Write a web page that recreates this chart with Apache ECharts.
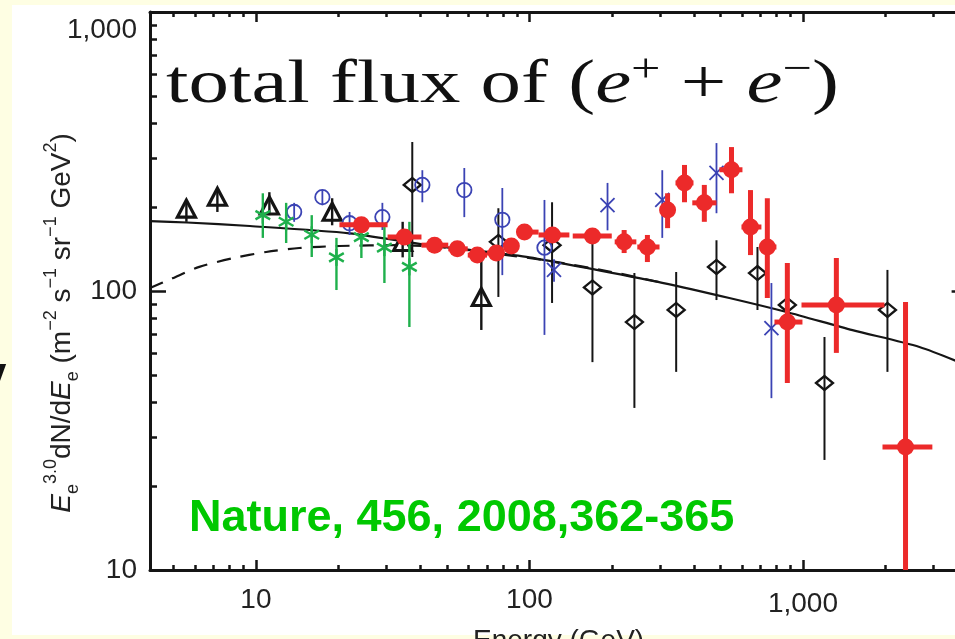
<!DOCTYPE html>
<html><head><meta charset="utf-8">
<script src="https://cdn.jsdelivr.net/npm/echarts@6/dist/echarts.min.js"></script>
<style>
html,body{margin:0;padding:0;width:955px;height:639px;overflow:hidden;background:#fefee3;}
#paper{position:absolute;left:12px;top:5px;width:943px;height:630px;background:#fff;}
#chart{position:absolute;left:0;top:0;width:955px;height:639px;}
</style></head><body>
<div id="paper"></div><div id="chart"></div>
<script>
// ---------------- data ----------------
const xMajorTicks = [10, 100, 1000];
const xTickLabels = ['10', '100', '1,000'];
const xMinorTicks = [5,6,7,8,9,20,30,40,50,60,70,80,90,200,300,400,500,600,700,800,900,2000,3000];
const yMajorTicks = [10, 100, 1000];
const yTickLabels = ['10', '100', '1,000'];
const yMinorTicks = [20,30,40,50,60,70,80,90,200,300,400,500,600,700,800,900];

// ATIC (red): [E, flux, Elow, Ehigh, fluxLow, fluxHigh]
const aticPoints = [
  [24.3,172.6,20.2,30.3,167,178],
  [34.9,156,30.3,40.3,151,161],
  [45.0,146,40.3,50.5,142,150],
  [54.5,141.6,50.5,59.5,138,146],
  [64.5,134.5,59.5,70,131,138],
  [75.7,136.8,70,81,133,141],
  [85.9,145,81,91,141,149],
  [95.9,162.6,91,108,158,167],
  [121.4,158.8,108,140,154,164],
  [170,157.4,144,200,152,163],
  [222,150,205,246,136.8,165.4],
  [270,143.8,248,299,127,158.8],
  [320,195,304,337,168,224],
  [369,244,342,398,208,283],
  [436,207,394,483,177,240],
  [548,272,495,601,224,328],
  [643,169.6,596,705,134.5,230],
  [741,143.8,705,800,94.4,215],
  [877,77.4,787,996,46.8,126],
  [1325,89.1,988,1986,60,131.3],
  [2372,27.6,1954,2973,10,91.3]
];
// black triangles: [E, flux, fluxLow, fluxHigh]
const trianglePoints = [
  [5.57,195,177,212],
  [7.23,215,192,234],
  [11.2,200,187,226],
  [19.0,190,172,215],
  [34.4,148,132,177],
  [66.7,94,72.5,134]
];
// green asterisks: [E, flux, fluxLow, fluxHigh]
const asteriskPoints = [
  [10.6,187,155,224],
  [12.9,177,148.6,207],
  [16.0,159,132.4,187],
  [19.7,132,100.8,155],
  [24.3,156,131.3,169.5],
  [29.5,143,106.8,169.5],
  [36.4,122,74.3,177]
];
// blue open circles: [E, flux, fluxLow, fluxHigh]
const circlePoints = [
  [13.8,192,177,207],
  [17.5,217,203,230],
  [22.0,175,158.8,192],
  [29.0,184,165.4,207],
  [40.6,240,208,271],
  [57.8,230,184,276],
  [79.6,180,114,234],
  [113.5,143,69.6,212]
];
// blue crosses: [E, flux, fluxLow, fluxHigh]
const crossPoints = [
  [123,119,108,130],
  [193,203,165,244],
  [306,212,155,271],
  [483,265,190,339],
  [767,73.6,41.3,106.8]
];
// black open diamonds: [E, flux, fluxLow, fluxHigh]
const diamondPoints = [
  [37.3,240,132.4,342],
  [77,150,95.2,198],
  [121,146,90.6,208],
  [170,103,55.6,161.4],
  [242,77.4,38.1,116],
  [344,85.5,51.3,117],
  [483,122,92.8,152],
  [682,116,85.5,143.8],
  [877,89.1,84,95],
  [1199,46.8,24.8,68.4],
  [2037,85.5,51.3,119]
];
// model curves: [E, flux]
const modelSolid = [
  [4.1,178],[5.6,176],[9.5,171],[22,161],[40.6,147],[62,140],[100,132],
  [176,119],[306,107],[538,94.4],[871,84.1],[1518,72.4],[2667,63],[4000,54]
];
const modelDashed = [
  [4.1,102.5],[4.95,111],[6.21,122],[8.2,131],[10.9,138],[14.4,142.6],
  [20.2,145],[33.5,146],[50,143],[80,135],[120,128],[200,117],[300,107.5]
];

// ---------------- chart ----------------
const lg = Math.log10;
const xMin = 4.1, xMax = 4000, yMin = 10, yMax = 1000;
const INK = '#151515';
const RED = '#ec2a2a';
const BLUE = '#3b43b4';
const GREEN = '#1fb04c';

function majorLabel(ticks, labels) {
  return function (v) {
    for (let i = 0; i < ticks.length; i++) {
      if (Math.abs(lg(ticks[i]) - v) < 1e-6) {
        return labels[i] === '1,000' ? '{k|' + labels[i] + '}' : labels[i];
      }
    }
    return '';
  };
}
const labelFont = { fontSize: 28, fontFamily: 'Liberation Sans, Arial, sans-serif', color: '#222' };

function decoX(position, min, max, ticks, len, line, labels) {
  return {
    type: 'value', gridIndex: 0, position: position, min: lg(min), max: lg(max),
    axisLine: { show: line, lineStyle: { color: INK, width: 3 } },
    axisTick: { show: true, inside: true, length: len, customValues: ticks.map(lg), lineStyle: { color: INK, width: 2.5 } },
    axisLabel: labels ? Object.assign({ show: true, customValues: ticks.map(lg), margin: 16,
      formatter: majorLabel(xMajorTicks, xTickLabels),
      rich: { k: Object.assign({ padding: [4, 0, 0, 0] }, labelFont) } }, labelFont) : { show: false },
    splitLine: { show: false }, minorTick: { show: false }
  };
}
function decoY(position, min, max, ticks, len, line, labels) {
  return {
    type: 'value', gridIndex: 0, position: position, min: lg(min), max: lg(max),
    axisLine: { show: line, lineStyle: { color: INK, width: 3 } },
    axisTick: { show: true, inside: true, length: len, customValues: ticks.map(lg), lineStyle: { color: INK, width: 2.5 } },
    axisLabel: labels ? Object.assign({ show: true, customValues: ticks.map(lg), margin: 13,
      formatter: majorLabel(yMajorTicks, yTickLabels),
      rich: { k: Object.assign({ padding: [36, 0, 0, 0] }, labelFont) } }, labelFont) : { show: false },
    splitLine: { show: false }, minorTick: { show: false }
  };
}

function vbar(api, E, lo, hi, color, w) {
  const a = api.coord([E, lo]), b = api.coord([E, hi]);
  return { type: 'line', shape: { x1: a[0], y1: a[1], x2: b[0], y2: b[1] }, style: { stroke: color, lineWidth: w } };
}
function seg(x1, y1, x2, y2, color, w) {
  return { type: 'line', shape: { x1: x1, y1: y1, x2: x2, y2: y2 }, style: { stroke: color, lineWidth: w } };
}

const renderTriangle = function (params, api) {
  const E = api.value(0), p = api.coord([E, api.value(1)]);
  return { type: 'group', children: [
    vbar(api, E, api.value(2), api.value(3), INK, 2.4),
    { type: 'polygon', shape: { points: [[p[0], p[1] - 10], [p[0] - 9, p[1] + 7], [p[0] + 9, p[1] + 7]] },
      style: { fill: 'none', stroke: INK, lineWidth: 3.2, lineJoin: 'miter' } }
  ] };
};
const renderAsterisk = function (params, api) {
  const E = api.value(0), p = api.coord([E, api.value(1)]);
  const r = 8.5, dx = r * Math.cos(Math.PI / 6), dy = r * Math.sin(Math.PI / 6);
  return { type: 'group', children: [
    vbar(api, E, api.value(2), api.value(3), GREEN, 2.4),
    seg(p[0], p[1] - r, p[0], p[1] + r, GREEN, 2.4),
    seg(p[0] - dx, p[1] - dy, p[0] + dx, p[1] + dy, GREEN, 2.4),
    seg(p[0] - dx, p[1] + dy, p[0] + dx, p[1] - dy, GREEN, 2.4)
  ] };
};
const renderCircle = function (params, api) {
  const E = api.value(0), p = api.coord([E, api.value(1)]);
  return { type: 'group', children: [
    vbar(api, E, api.value(2), api.value(3), BLUE, 1.8),
    { type: 'circle', shape: { cx: p[0], cy: p[1], r: 7.2 }, style: { fill: 'none', stroke: BLUE, lineWidth: 1.8 } }
  ] };
};
const renderCross = function (params, api) {
  const E = api.value(0), p = api.coord([E, api.value(1)]);
  return { type: 'group', children: [
    vbar(api, E, api.value(2), api.value(3), BLUE, 1.8),
    seg(p[0] - 7, p[1] - 7, p[0] + 7, p[1] + 7, BLUE, 1.8),
    seg(p[0] - 7, p[1] + 7, p[0] + 7, p[1] - 7, BLUE, 1.8)
  ] };
};
const renderDiamond = function (params, api) {
  const E = api.value(0), p = api.coord([E, api.value(1)]);
  return { type: 'group', children: [
    vbar(api, E, api.value(2), api.value(3), INK, 2),
    { type: 'polygon', shape: { points: [[p[0] - 8.5, p[1]], [p[0], p[1] - 7], [p[0] + 8.5, p[1]], [p[0], p[1] + 7]] },
      style: { fill: 'none', stroke: INK, lineWidth: 2.3 } }
  ] };
};
const renderAtic = function (params, api) {
  const E = api.value(0), F = api.value(1);
  const p = api.coord([E, F]), l = api.coord([api.value(2), F]), r = api.coord([api.value(3), F]);
  return { type: 'group', children: [
    vbar(api, E, api.value(4), api.value(5), RED, 5),
    seg(l[0], l[1], r[0], r[1], RED, 5),
    { type: 'circle', shape: { cx: p[0], cy: p[1], r: 8.5 }, style: { fill: RED } }
  ] };
};

function customSeries(name, data, render, z) {
  return { name: name, type: 'custom', xAxisIndex: 0, yAxisIndex: 0, data: data, renderItem: render,
    encode: { x: 0, y: 1 }, z: z, silent: true, animation: false };
}

const chart = echarts.init(document.getElementById('chart'), null, { renderer: 'canvas' });
chart.setOption({
  animation: false,
  backgroundColor: 'transparent',
  grid: { left: 150, top: 12, right: -12.6, bottom: 69, containLabel: false, outerBoundsMode: 'none' },
  xAxis: [
    { type: 'log', logBase: 10, min: xMin, max: xMax, show: false, gridIndex: 0 },
    decoX('bottom', xMin, xMax, xMajorTicks, 10, true, true),
    decoX('bottom', xMin, xMax, xMinorTicks, 5, false, false),
    decoX('top', xMin, xMax, xMajorTicks, 10, true, false),
    decoX('top', xMin, xMax, xMinorTicks, 5, false, false)
  ],
  yAxis: [
    { type: 'log', logBase: 10, min: yMin, max: yMax, show: false, gridIndex: 0 },
    decoY('left', yMin, yMax, yMajorTicks, 16, true, true),
    decoY('left', yMin, yMax, yMinorTicks, 7, false, false),
    decoY('right', yMin, yMax, yMajorTicks, 16, true, false),
    decoY('right', yMin, yMax, yMinorTicks, 7, false, false)
  ],
  series: [
    { name: 'model', type: 'line', xAxisIndex: 0, yAxisIndex: 0, data: modelSolid, showSymbol: false, smooth: 0.25,
      lineStyle: { color: INK, width: 2.2 }, z: 2, silent: true },
    { name: 'model (modulated)', type: 'line', xAxisIndex: 0, yAxisIndex: 0, data: modelDashed, showSymbol: false, smooth: 0.25,
      lineStyle: { color: INK, width: 2.2, type: [14, 10] }, z: 2, silent: true },
    customSeries('triangles', trianglePoints, renderTriangle, 3),
    customSeries('diamonds', diamondPoints, renderDiamond, 3),
    customSeries('circles', circlePoints, renderCircle, 4),
    customSeries('crosses', crossPoints, renderCross, 4),
    customSeries('asterisks', asteriskPoints, renderAsterisk, 4),
    customSeries('ATIC', aticPoints, renderAtic, 6)
  ],
  graphic: [
    { type: 'text', x: 166, y: 50, scaleX: 1.305, z: 10, style: {
        text: '{n|total flux of (}{i|e}{s|+}{n| + }{i|e}{s|\u2212}{n|)}',
        align: 'left', verticalAlign: 'top',
        rich: {
          n: { fontSize: 62, fontFamily: 'Liberation Serif, serif', fill: '#111', lineHeight: 72 },
          i: { fontSize: 62, fontFamily: 'Liberation Serif, serif', fontStyle: 'italic', fill: '#111', lineHeight: 72 },
          s: { fontSize: 40, fontFamily: 'Liberation Serif, serif', fill: '#111', verticalAlign: 'top', lineHeight: 42 }
        } } },
    { type: 'text', left: 189, top: 496, z: 10, style: {
        text: 'Nature, 456, 2008,362-365', fontSize: 45, fontWeight: 'bold',
        fontFamily: 'Liberation Sans, Arial, sans-serif', fill: '#00c800' } },
    { type: 'text', left: 473, top: 627, z: 10, style: {
        text: 'Energy (GeV)', fontSize: 28, fontFamily: 'Liberation Sans, Arial, sans-serif', fill: '#222' } },
    { type: 'text', x: 62, y: 323, rotation: Math.PI / 2, z: 10, style: {
        text: '{i|E}{b|e}{p|3.0}{n|dN/d}{i|E}{b|e}{n| (m}{p|\u22122}{n| s}{p|\u22121}{n| sr}{p|\u22121}{n| GeV}{p|2}{n|)}',
        align: 'center', verticalAlign: 'middle',
        rich: {
          n: { fontSize: 28, fontFamily: 'Liberation Sans, Arial, sans-serif', fill: '#222', lineHeight: 40 },
          i: { fontSize: 28, fontFamily: 'Liberation Sans, Arial, sans-serif', fontStyle: 'italic', fill: '#222', lineHeight: 40 },
          p: { fontSize: 18, fontFamily: 'Liberation Sans, Arial, sans-serif', fill: '#222', verticalAlign: 'top', lineHeight: 20 },
          b: { fontSize: 18, fontFamily: 'Liberation Sans, Arial, sans-serif', fill: '#222', verticalAlign: 'bottom', lineHeight: 20 }
        } } },
    { type: 'text', x: -17, y: 354, z: 10, style: {
        text: 'y', fontSize: 42, fontWeight: 'bold', fontFamily: 'Liberation Sans, Arial, sans-serif', fill: '#111' } }
  ]
});
</script>
</body></html>
